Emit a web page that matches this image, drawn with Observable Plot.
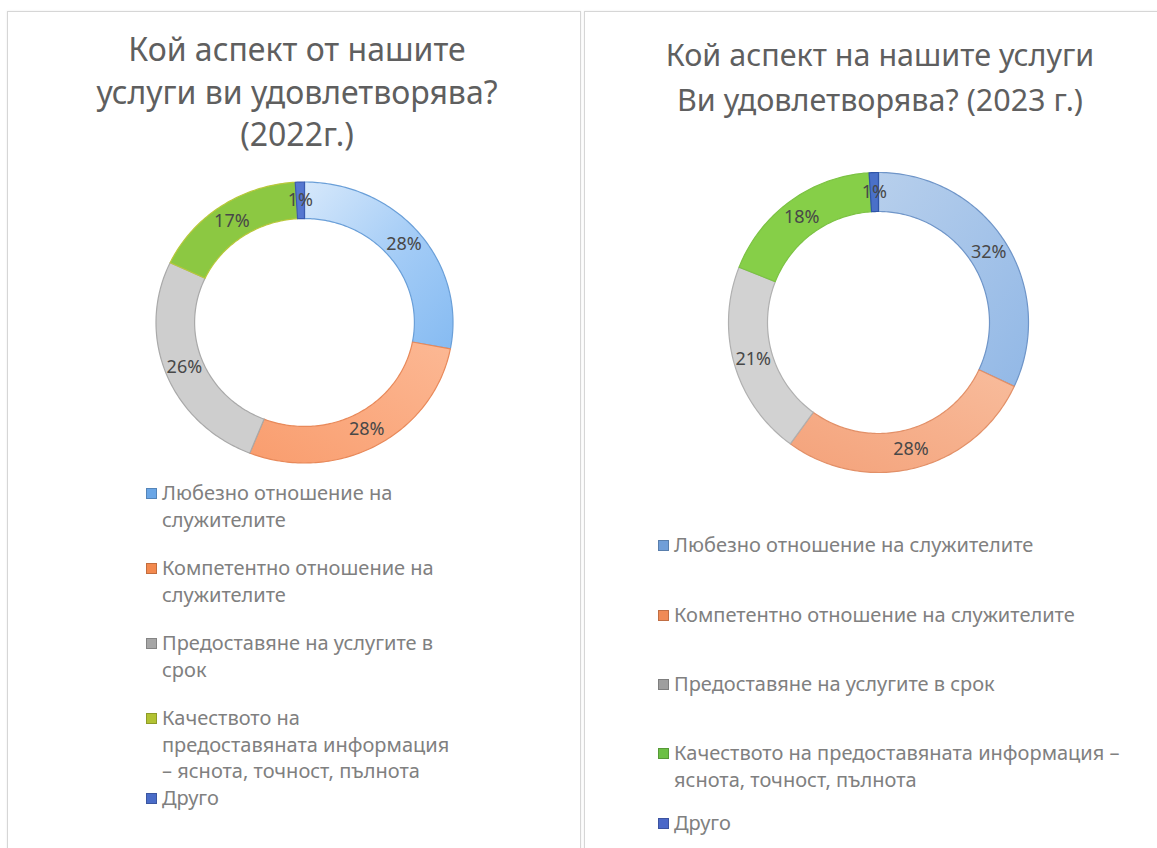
<!DOCTYPE html>
<html>
<head>
<meta charset="utf-8">
<script src="https://cdn.jsdelivr.net/npm/d3@7"></script>
<script src="https://cdn.jsdelivr.net/npm/@observablehq/plot@0.6"></script>
<style>
  html, body { margin: 0; padding: 0; background: #fff; }
  body { width: 1157px; height: 848px; overflow: hidden; position: relative; font-family: "Noto Sans", "Open Sans", sans-serif; }
  .panel { position: absolute; border: 1px solid #d6d6d6; border-bottom: none; box-shadow: 0 0 2px rgba(0,0,0,0.08); background: #fff; }
  .title { position: absolute; text-align: center; color: #5f5f5f; white-space: nowrap; }
  .chart { position: absolute; }
  .leg { position: absolute; color: #808080; line-height: 26.5px; }
  .leg .sw { position: absolute; left: 0; width: 11px; height: 11px; top: 8px; box-sizing: border-box; border: 1px solid rgba(0,0,0,0.2); }
  .leg .tx { margin-left: 16px; }
</style>
</head>
<body>
<div class="panel" style="left:7px; top:11px; width:572px; height:860px;"></div>
<div class="panel" style="left:584px; top:11px; width:600px; height:860px;"></div>
<div id="root"></div>
<script>
// ---------- data ----------
const categories = [
  "Любезно отношение на служителите",
  "Компетентно отношение на служителите",
  "Предоставяне на услугите в срок",
  "Качеството на предоставяната информация – яснота, точност, пълнота",
  "Друго"
];
const values2022 = [28, 28, 26, 17, 1];
const values2023 = [32, 28, 21, 18, 1];
const title2022 = ["Кой аспект от нашите", "услуги ви удовлетворява?", "(2022г.)"];
const title2023 = ["Кой аспект на нашите услуги", "Ви удовлетворява? (2023 г.)"];
const fill2022 = ["url(#g22blue)", "url(#g22orange)", "#cecece", "#8cc842", "#5577d0"];
const stroke2022 = ["#6a9fd8", "#e8895a", "#a9a9a9", "#b8c83a", "#3a5bb0"];
const fill2023 = ["url(#g23blue)", "url(#g23orange)", "#d2d2d2", "#86cf48", "#4a70c8"];
const stroke2023 = ["#6f95c8", "#e29068", "#b0b0b0", "#7cc243", "#2f55a8"];
const legendSw2022 = ["#6aa6e6", "#f3894e", "#a6a6a6", "#b2c232", "#4a6cc8"];
const legendSw2023 = ["#709ed8", "#f08a55", "#9e9e9e", "#6cc045", "#4b68c8"];

// ---------- helpers ----------
function sliceTable(values) {
  const total = d3.sum(values);
  let acc = 0;
  return values.map((v, i) => {
    const a0 = acc / total * 2 * Math.PI;
    acc += v;
    const a1 = acc / total * 2 * Math.PI;
    return { cat: categories[i], value: v, a0, a1, mid: (a0 + a1) / 2 };
  });
}
function ringPoints(slices, inner) {
  const pts = [];
  for (const s of slices) {
    const n = Math.max(2, Math.ceil((s.a1 - s.a0) / (Math.PI / 180)));
    const ring = [];
    for (let k = 0; k <= n; k++) {
      const a = s.a0 + (s.a1 - s.a0) * k / n;
      ring.push({ cat: s.cat, px: Math.sin(a), py: Math.cos(a) });
    }
    for (let k = n; k >= 0; k--) {
      const a = s.a0 + (s.a1 - s.a0) * k / n;
      ring.push({ cat: s.cat, px: inner * Math.sin(a), py: inner * Math.cos(a) });
    }
    ring.push(ring[0]);
    pts.push(...ring);
  }
  return pts;
}

function donut(values, fills, strokes, opt) {
  const slices = sliceTable(values);
  const inner = 0.74;
  const pts = ringPoints(slices, inner);
  const marks = categories.map((c, i) =>
    Plot.line(pts.filter(p => p.cat === c), {
      x: "px", y: "py", fill: "cat", stroke: strokes[i], strokeWidth: 1.2, curve: "linear"
    })
  );
  marks.push(Plot.text(slices, {
    x: d => 0.87 * Math.sin(d.mid),
    y: d => 0.87 * Math.cos(d.mid),
    text: d => d.value + "%",
    fill: "#484848",
    fontSize: 18,
    fontFamily: "Noto Sans"
  }));
  const svg = Plot.plot({
    width: opt.w, height: opt.h, margin: 0,
    x: { domain: [-1, 1], range: [opt.cx - opt.rx, opt.cx + opt.rx], axis: null },
    y: { domain: [-1, 1], range: [opt.cy + opt.ry, opt.cy - opt.ry], axis: null },
    color: { domain: categories, range: fills },
    marks
  });
  if (opt.defs) {
    const ns = "http://www.w3.org/2000/svg";
    const defs = document.createElementNS(ns, "defs");
    defs.innerHTML = opt.defs;
    svg.insertBefore(defs, svg.firstChild);
  }
  return svg;
}

const root = document.getElementById("root");
function addTitle(lines, left, width, top, lh, fs) {
  const d = document.createElement("div");
  d.className = "title";
  d.style.left = left + "px"; d.style.width = width + "px"; d.style.top = top + "px";
  d.style.lineHeight = lh + "px"; d.style.fontSize = fs + "px";
  lines.forEach(l => { const s = document.createElement("div"); s.textContent = l; d.appendChild(s); });
  root.appendChild(d);
}
function addChart(svg, left, top) {
  const d = document.createElement("div");
  d.className = "chart"; d.style.left = left + "px"; d.style.top = top + "px";
  d.appendChild(svg); root.appendChild(d);
}
function addLegend(swatches, left, tops, width, fs) {
  categories.forEach((c, i) => {
    const d = document.createElement("div");
    d.className = "leg";
    d.style.left = left + "px"; d.style.top = tops[i] + "px"; d.style.width = width + "px";
    d.style.fontSize = fs + "px";
    const sw = document.createElement("div"); sw.className = "sw"; sw.style.background = swatches[i];
    const tx = document.createElement("div"); tx.className = "tx"; tx.textContent = c;
    d.appendChild(sw); d.appendChild(tx); root.appendChild(d);
  });
}

const defs2022 = `
  <linearGradient id="g22blue" x1="0" y1="0" x2="1" y2="1">
    <stop offset="0" stop-color="#d6e8fb"/><stop offset="0.55" stop-color="#a2cbf6"/><stop offset="1" stop-color="#86bbf2"/>
  </linearGradient>
  <linearGradient id="g22orange" x1="1" y1="0" x2="0" y2="1">
    <stop offset="0" stop-color="#fcb894"/><stop offset="1" stop-color="#f99d6e"/>
  </linearGradient>`;
const defs2023 = `
  <linearGradient id="g23blue" x1="0" y1="0" x2="1" y2="1">
    <stop offset="0" stop-color="#b7cfec"/><stop offset="1" stop-color="#92b8e6"/>
  </linearGradient>
  <linearGradient id="g23orange" x1="1" y1="0" x2="0" y2="1">
    <stop offset="0" stop-color="#f8bc9c"/><stop offset="1" stop-color="#f4a27a"/>
  </linearGradient>`;

// left panel (2022)
addTitle(title2022, 47, 500, 28, 42.5, 32);
addChart(donut(values2022, fill2022, stroke2022, { w: 580, h: 340, cx: 304, cy: 172, rx: 148.5, ry: 140.5, defs: defs2022 }), 0, 150);
addLegend(legendSw2022, 146, [480, 555, 630, 705, 785], 312, 20);

// right panel (2023)
addTitle(title2023, 630, 500, 32, 45, 30.5);
addChart(donut(values2023, fill2023, stroke2023, { w: 573, h: 340, cx: 294, cy: 172, rx: 150, ry: 150, defs: defs2023 }), 584, 150);
addLegend(legendSw2023, 658, [532, 602, 671, 740, 810], 462, 20);
</script>
</body>
</html>
